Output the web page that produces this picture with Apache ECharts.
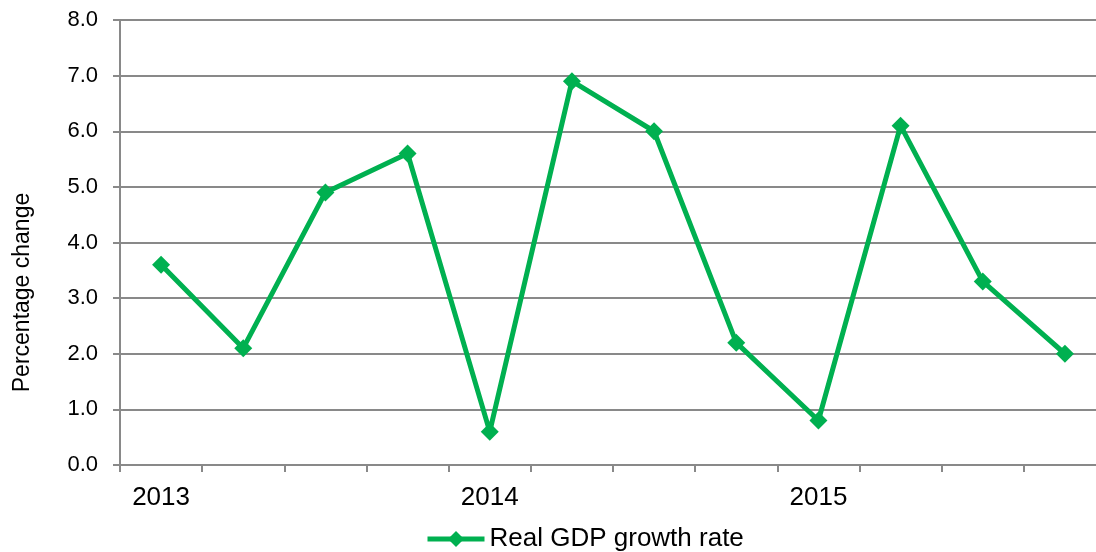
<!DOCTYPE html>
<html>
<head>
<meta charset="utf-8">
<script src="https://cdn.jsdelivr.net/npm/echarts@6/dist/echarts.min.js"></script>
<style>
  html, body { margin: 0; padding: 0; background: #fff; }
  #chart { width: 1096px; height: 552px; }
</style>
</head>
<body>
<div id="chart"></div>
<script>
// quarters, 2013 Q1 .. 2015 Q4
let quarters = ['2013', '2013 Q2', '2013 Q3', '2013 Q4', '2014', '2014 Q2', '2014 Q3', '2014 Q4', '2015', '2015 Q2', '2015 Q3', '2015 Q4']
let gdpGrowth = [3.6, 2.1, 4.9, 5.6, 0.6, 6.9, 6.0, 2.2, 0.8, 6.1, 3.3, 2.0]
let seriesName = 'Real GDP growth rate'
let axisTitle = 'Percentage change'

let chart = echarts.init(document.getElementById('chart'))
let font = 'Liberation Sans, Arial, sans-serif'
let green = '#00B050'
let grey = '#898989'

chart.setOption({
  animation: false,
  textStyle: { fontFamily: font },
  // plot runs past the right edge of the picture
  grid: { left: 120, width: 986, top: 20, height: 445, outerBoundsMode: 'none' },
  legend: {
    top: 521,
    left: 420,
    itemWidth: 57,
    itemHeight: 20,
    itemGap: 4,
    data: [seriesName],
    lineStyle: { width: 5 },
    textStyle: { fontSize: 26, color: '#000', fontFamily: font }
  },
  xAxis: {
    type: 'category',
    data: quarters,
    boundaryGap: true,
    axisLine: { lineStyle: { color: grey, width: 2 } },
    axisTick: { show: true, interval: 0, length: 7, lineStyle: { color: grey, width: 2 } },
    axisLabel: {
      interval: function (i) { return i % 4 === 0 },
      formatter: function (v) { return v.split(' ')[0] },
      fontSize: 26,
      color: '#000',
      margin: 20
    }
  },
  yAxis: {
    type: 'value',
    min: 0,
    max: 8,
    interval: 1,
    name: axisTitle,
    nameLocation: 'middle',
    nameGap: 86,
    nameTextStyle: { fontSize: 23, color: '#000', padding: [0, 100, 0, 0] },
    axisLine: { show: true, lineStyle: { color: grey, width: 2 } },
    axisTick: { show: true, length: 7, lineStyle: { color: grey, width: 2 } },
    axisLabel: {
      formatter: function (v) { return v.toFixed(1) },
      fontSize: 22,
      color: '#000',
      margin: 22
    },
    splitLine: { lineStyle: { color: grey, width: 2 } }
  },
  series: [{
    name: seriesName,
    type: 'line',
    data: gdpGrowth,
    symbol: 'diamond',
    symbolSize: 18,
    lineStyle: { color: green, width: 5 },
    itemStyle: { color: green }
  }]
})
</script>
</body>
</html>
